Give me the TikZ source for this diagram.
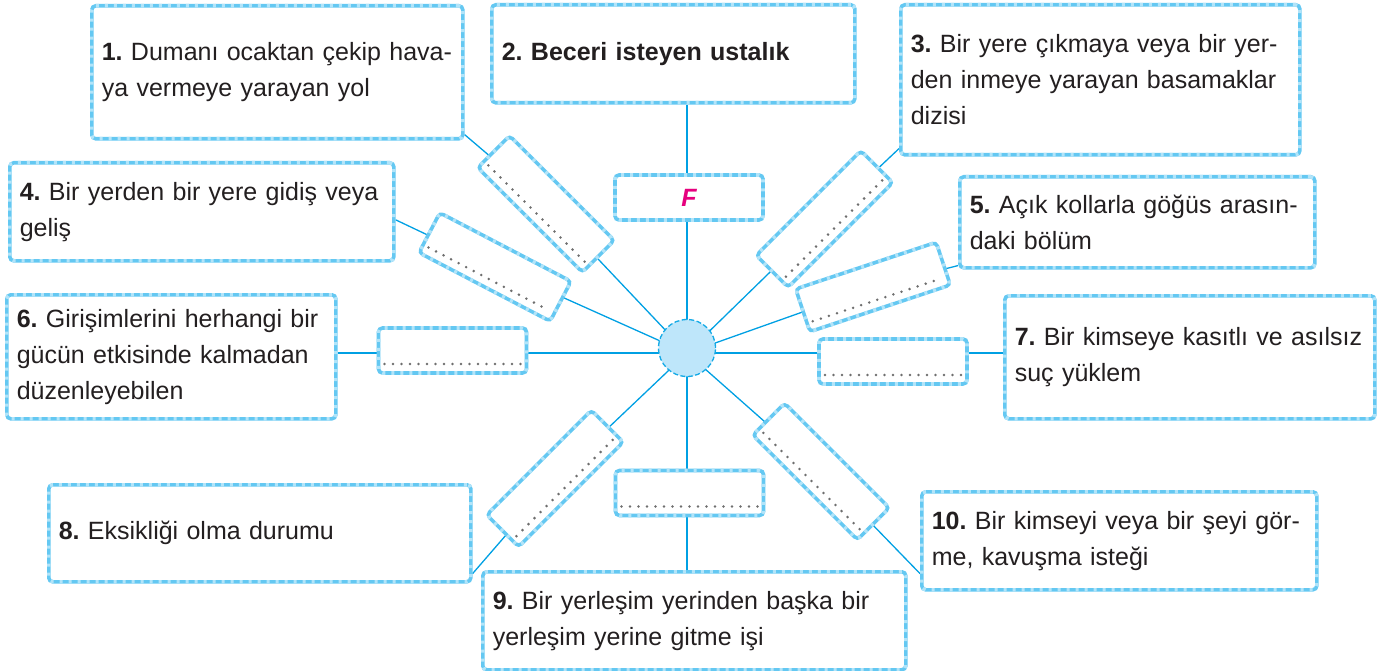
\documentclass[tikz,border=0pt]{standalone}
\usepackage{fontspec}
\setmainfont{Liberation Sans}
\frenchspacing
\usetikzlibrary{calc,backgrounds}
\definecolor{bxA}{RGB}{100,200,242}
\definecolor{bxB}{RGB}{178,228,249}
\definecolor{lnC}{RGB}{0,160,227}
\definecolor{txC}{RGB}{35,31,32}
\definecolor{hubF}{RGB}{190,230,250}
\definecolor{hubD}{RGB}{20,170,230}
\definecolor{magC}{RGB}{230,0,126}
\definecolor{dotC}{RGB}{110,110,110}
\newcommand\jl[1]{\makebox[\linewidth][s]{#1}}
\newcommand\ansbox[4]{%
 \begin{scope}[shift={(#2,#3)},rotate=#4,transform shape]
  \node[abox] (#1) at (0,0) {};
  \draw[dotline] (-68,13.5) -- (68,13.5);
 \end{scope}}
\tikzset{
 bxline/.style={draw=bxA, line width=3.6pt, rounded corners=4pt, fill=white,
   postaction={draw=bxB, line width=3.6pt, rounded corners=4pt, dash pattern=on 3pt off 6pt}},
 bxnode/.style={bxline, inner xsep=10pt, inner ysep=0pt, align=left, anchor=north west,
   font=\fontsize{25}{36}\selectfont\frenchspacing, text=txC},
 abox/.style={bxline, minimum width=148pt, minimum height=45pt, inner sep=0pt},
 dotline/.style={dotC, line width=2.8pt, line cap=round, dash pattern=on 0pt off 8.5pt},
 ln/.style={draw=lnC, line width=1.3pt},
}
\begin{document}
\begin{tikzpicture}[x=1pt,y=-1pt]
\useasboundingbox (0,0) rectangle (1381,671);
% main boxes
\node[bxnode, text width=351pt, minimum height=133pt] (b1) at (90,4)
  {\jl{\textbf{1.} Dumanı ocaktan çekip hava-}\\ya vermeye yarayan yol};
\node[bxnode, text width=343pt, minimum height=98pt] (b2) at (490,3)
  {\textbf{2. Beceri isteyen ustalık}};
\node[bxnode, text width=379pt, minimum height=150pt] (b3) at (899,3)
  {\jl{\textbf{3.} Bir yere çıkmaya veya bir yer-}\\\jl{den inmeye yarayan basamaklar}\\dizisi};
\node[bxnode, text width=364pt, minimum height=98pt] (b4) at (8,161)
  {\jl{\textbf{4.} Bir yerden bir yere gidiş veya}\\geliş};
\node[bxnode, text width=335pt, minimum height=91pt] (b5) at (958,175)
  {\jl{\textbf{5.} Açık kollarla göğüs arasın-}\\daki bölüm};
\node[bxnode, text width=309pt, minimum height=124pt] (b6) at (5,293)
  {\jl{\textbf{6.} Girişimlerini herhangi bir}\\\jl{gücün etkisinde kalmadan}\\düzenleyebilen};
\node[bxnode, text width=350pt, minimum height=123pt] (b7) at (1003,294)
  {\jl{\textbf{7.} Bir kimseye kasıtlı ve asılsız}\\suç yüklem};
\node[bxnode, text width=402pt, minimum height=97pt] (b8) at (47,483)
  {\textbf{8.} Eksikliği olma durumu};
\node[bxnode, text width=403pt, minimum height=98pt] (b9) at (481,570)
  {\jl{\textbf{9.} Bir yerleşim yerinden başka bir}\\yerleşim yerine gitme işi};
\node[bxnode, text width=375pt, minimum height=98pt] (b10) at (920,490)
  {\jl{\textbf{10.} Bir kimseyi veya bir şeyi gör-}\\me, kavuşma isteği};
% answer boxes
\ansbox{a1}{546}{204}{-45}
\ansbox{a4}{495}{267}{-27.6}
\ansbox{a3}{824.5}{219}{45}
\ansbox{a5}{873}{287}{18.4}
\ansbox{a6}{452.5}{350.5}{0}
\ansbox{a7}{893}{361.5}{0}
\ansbox{a9}{689.5}{493}{0}
\ansbox{a8}{555}{478.5}{45}
\ansbox{a10}{821}{471.5}{-45}
\node[abox, font=\fontsize{25}{30}\selectfont\bfseries\itshape, text=magC] (fb) at (689,197.5) {F};
% hub
\coordinate (hub) at (687,353);
\node[circle, minimum size=57pt, inner sep=0pt, fill=hubF, draw=hubD, line width=1.3pt,
  dash pattern=on 5pt off 2.5pt] (c) at (687,348) {};
% connectors
\begin{pgfonlayer}{background}
\draw[ln] (hub) -- (hub |- b2.south);
\draw[ln] (hub) -- (a1.center) -- ([yshift=6pt]b1.south east);
\draw[ln] (hub) -- (a3.center) -- ([yshift=8pt]b3.south west);
\draw[ln] (hub) -- (a4.center) -- ([yshift=-8pt]b4.east);
\draw[ln] (hub) -- (a5.center) -- ([yshift=4pt]b5.south west);
\draw[ln] (hub) -- (hub -| b6.east);
\draw[ln] (hub) -- (hub -| b7.west);
\draw[ln] (hub) -- (a8.center) -- ([yshift=10pt]b8.south east);
\draw[ln] (hub) -- (hub |- b9.north);
\draw[ln] (hub) -- (a10.center) -- ([yshift=18pt]b10.south west);
\end{pgfonlayer}
\end{tikzpicture}
\end{document}
